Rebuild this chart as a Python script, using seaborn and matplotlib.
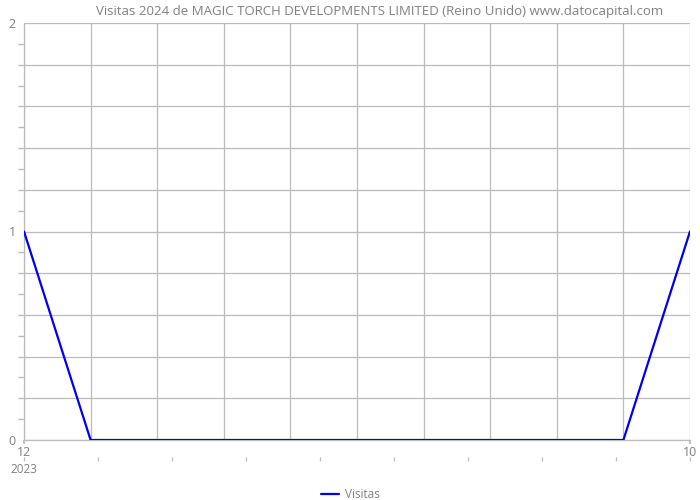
import matplotlib
matplotlib.use("Agg")
import matplotlib.pyplot as plt
import seaborn as sns
import pandas as pd
import numpy as np
from matplotlib.ticker import MultipleLocator

months = ["12", "01", "02", "03", "04", "05", "06", "07", "08", "09", "10"]
visitas = [1, 0, 0, 0, 0, 0, 0, 0, 0, 0, 1]
title = "Visitas 2024 de MAGIC TORCH DEVELOPMENTS LIMITED (Reino Unido) www.datocapital.com"

sns.set_theme(style="white")
plt.rcParams['font.family'] = ['Open Sans', 'DejaVu Sans']

df = pd.DataFrame({"pos": np.arange(len(months)), "Visitas": visitas})

fig = plt.figure(figsize=(7, 5), dpi=100)
ax = fig.add_axes([0.0343, 0.12, 0.9514, 0.834])

sns.lineplot(data=df, x="pos", y="Visitas", ax=ax, color="#0000ee", linewidth=1.6,
             label="Visitas", zorder=3)

gray = "#bbbbbb"
txt = "#808080"
ax.set_xlim(0, len(months) - 1)
ax.set_ylim(0, 2)

for x in range(len(months)):
    ax.axvline(x, color=gray, linewidth=0.9, zorder=1)
for y in np.arange(0, 2.01, 0.2):
    ax.axhline(y, color=gray, linewidth=0.9, zorder=1)

for s in ["top", "right"]:
    ax.spines[s].set_visible(False)
for s in ["left", "bottom"]:
    ax.spines[s].set_color(gray)
    ax.spines[s].set_linewidth(0.9)

ax.set_yticks([0, 1, 2])
ax.set_yticklabels(["0", "1", "2"])
ax.yaxis.set_minor_locator(MultipleLocator(0.1))
ax.tick_params(axis="y", which="major", length=4, color=gray, labelcolor=txt, labelsize=9, pad=2)
ax.tick_params(axis="y", which="minor", length=4, color=gray, left=True)

ax.set_xticks([0, len(months) - 1])
ax.set_xticklabels([months[0], months[-1]])
ax.tick_params(axis="x", which="major", length=3, color=gray, labelcolor=txt, labelsize=9, pad=1, bottom=True)
ax.set_xlabel("")
ax.set_ylabel("")
ax.text(0, -0.055, "2023", transform=ax.get_xaxis_transform(), ha="center", va="top",
        color=txt, fontsize=8.5)

sec = ax.secondary_xaxis(-0.04)
sec.set_xticks(np.linspace(0, len(months) - 1, 10))
sec.set_xticklabels([])
sec.tick_params(length=3, color=gray, width=0.9)
sec.spines["bottom"].set_visible(False)

fig.text(0.543, 0.978, title, color=txt, fontsize=9.5, ha="center", va="center")

leg = ax.legend(loc="upper center", bbox_to_anchor=(0.49, -0.09), frameon=False,
                fontsize=8.5, handlelength=1.5, handletextpad=0.5)
for t in leg.get_texts():
    t.set_color(txt)

fig.savefig("out.png", dpi=100)
